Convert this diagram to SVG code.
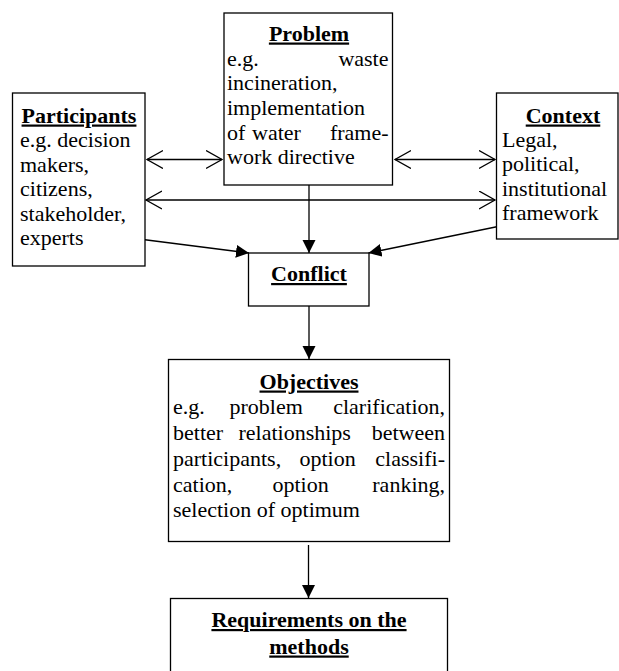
<svg xmlns="http://www.w3.org/2000/svg" width="619" height="671" viewBox="0 0 619 671">
<style>
.box{fill:#fff;stroke:#000;stroke-width:1.3}
.t{font-family:'Liberation Serif','Times New Roman',serif;font-size:22px;fill:#000}
.h{font-weight:bold;text-decoration:underline;text-anchor:middle}
.e{text-anchor:end}
.c{fill:none;stroke:#000;stroke-width:1.3}
</style>
<defs>
<marker id="fa" markerUnits="userSpaceOnUse" markerWidth="14" markerHeight="14" refX="13" refY="6.5" orient="auto"><path d="M0,0 L13,6.5 L0,13 z" fill="#000"/></marker>
<marker id="oa" markerUnits="userSpaceOnUse" markerWidth="18" markerHeight="20" refX="16" refY="9.5" orient="auto-start-reverse"><path d="M0,0.5 L16,9.5 L0,18.5" fill="none" stroke="#000" stroke-width="1.3"/></marker>
</defs>
<g id="connectors">
<line class="c" x1="147" y1="159.5" x2="222" y2="159.5" marker-start="url(#oa)" marker-end="url(#oa)"/>
<line class="c" x1="395" y1="159.5" x2="495" y2="159.5" marker-start="url(#oa)" marker-end="url(#oa)"/>
<line class="c" x1="146" y1="200" x2="495" y2="200" marker-start="url(#oa)" marker-end="url(#oa)"/>
<line class="c" x1="309" y1="185" x2="309" y2="253" marker-end="url(#fa)"/>
<line class="c" x1="143" y1="239.5" x2="249" y2="253" marker-end="url(#fa)"/>
<line class="c" x1="498" y1="226.5" x2="368.5" y2="253" marker-end="url(#fa)"/>
<line class="c" x1="309" y1="306" x2="309" y2="359" marker-end="url(#fa)"/>
<line class="c" x1="308.5" y1="545" x2="308.5" y2="598" marker-end="url(#fa)"/>
</g>
<g id="participants">
<rect class="box" x="12.5" y="93" width="132.5" height="173"/>
<text class="t h" x="79" y="122.5">Participants</text>
<text class="t" x="20" y="147">e.g. decision</text>
<text class="t" x="20" y="171.5">makers,</text>
<text class="t" x="20" y="196">citizens,</text>
<text class="t" x="20" y="220.5">stakeholder,</text>
<text class="t" x="20" y="245">experts</text>
</g>
<g id="problem">
<rect class="box" x="224" y="13" width="168.5" height="172"/>
<text class="t h" x="309" y="40.5">Problem</text>
<text class="t" x="227" y="65.5">e.g.</text>
<text class="t e" x="388.5" y="65.5">waste</text>
<text class="t" x="227" y="90">incineration,</text>
<text class="t" x="227" y="114.5">implementation</text>
<text class="t" x="227" y="139.5">of</text>
<text class="t" x="252" y="139.5">water</text>
<text class="t e" x="388.5" y="139.5">frame-</text>
<text class="t" x="227" y="164">work directive</text>
</g>
<g id="context">
<rect class="box" x="496.5" y="93" width="121.5" height="146"/>
<text class="t h" x="563" y="122.5">Context</text>
<text class="t" x="502" y="147">Legal,</text>
<text class="t" x="502" y="171">political,</text>
<text class="t" x="502" y="195.5">institutional</text>
<text class="t" x="502" y="220">framework</text>
</g>
<g id="conflict">
<rect class="box" x="248.5" y="253" width="120.5" height="53"/>
<text class="t h" x="309" y="281">Conflict</text>
</g>
<g id="objectives">
<rect class="box" x="168.5" y="359.5" width="281" height="182"/>
<text class="t h" x="309" y="388.5">Objectives</text>
<text class="t" x="173" y="414">e.g.</text>
<text class="t" x="229.5" y="414">problem</text>
<text class="t e" x="445" y="414">clarification,</text>
<text class="t" x="173" y="440">better</text>
<text class="t" x="238.5" y="440">relationships</text>
<text class="t e" x="445" y="440">between</text>
<text class="t" x="173" y="466">participants,</text>
<text class="t" x="299.5" y="466">option</text>
<text class="t e" x="445" y="466">classifi-</text>
<text class="t" x="173" y="491.5">cation,</text>
<text class="t" x="272.5" y="491.5">option</text>
<text class="t e" x="445" y="491.5">ranking,</text>
<text class="t" x="173" y="516.5">selection of optimum</text>
</g>
<g id="requirements">
<rect class="box" x="170.5" y="598.5" width="277" height="90"/>
<text class="t h" x="309" y="627">Requirements on the</text>
<text class="t h" x="309" y="653.5">methods</text>
</g>
</svg>
